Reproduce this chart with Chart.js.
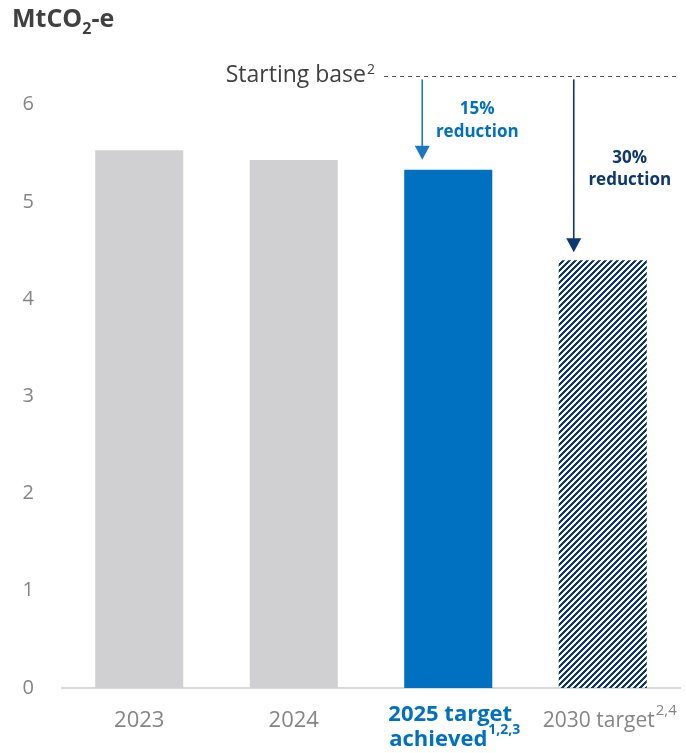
<!DOCTYPE html>
<html>
<head>
<meta charset="utf-8">
<script src="https://cdn.jsdelivr.net/npm/chart.js@4"></script>
<style>
  html, body { margin: 0; padding: 0; background: #fff; }
  #wrap { width: 686px; height: 753px; }
</style>
</head>
<body>
<div id="wrap"><canvas id="emissions" width="686" height="753"></canvas></div>
<script>
// ===== DATA =====
const categories = ['2023', '2024', '2025 target achieved', '2030 target'];
const emissions = [5.53, 5.43, 5.33, 4.40];   // MtCO2-e
const startingBase = 6.29;
const yTicks = [0, 1, 2, 3, 4, 5, 6];
const reductions = ['15%', '30%'];

const FONT = '"Open Sans", "Noto Sans", sans-serif';
const GREY_BAR = '#d0d0d2';
const BLUE = '#0070c0';
const NAVY = '#0c3770';
const LABEL_GREY = '#858585';

// crisp pixel hatch ("/" stripes) for the 2030 target bar
function hatchPattern(color) {
  const size = 6;
  const c = document.createElement('canvas');
  c.width = size; c.height = size;
  const g = c.getContext('2d');
  g.fillStyle = color;
  for (let r = 0; r < size; r++) {
    for (let k = 0; k < 3; k++) {
      g.fillRect((size - r + k) % size, r, 1, 1);
    }
  }
  return g.createPattern(c, 'repeat');
}

// text with a raised, smaller suffix; x is the centre of the main text
function supText(ctx, main, sup, x, y, font, supFont, color) {
  ctx.fillStyle = color;
  ctx.textBaseline = 'middle';
  ctx.font = font;
  const w = ctx.measureText(main).width;
  ctx.textAlign = 'left';
  ctx.fillText(main, x - w / 2, y);
  ctx.font = supFont;
  ctx.fillText(sup, x + w / 2 + 1, y - 10);
}

function arrow(ctx, x, y0, y1, color) {
  ctx.strokeStyle = color;
  ctx.fillStyle = color;
  ctx.lineWidth = 1.6;
  ctx.beginPath();
  ctx.moveTo(x, y0);
  ctx.lineTo(x, y1 - 13);
  ctx.stroke();
  ctx.beginPath();
  ctx.moveTo(x - 7.5, y1 - 14);
  ctx.lineTo(x + 7.5, y1 - 14);
  ctx.lineTo(x, y1);
  ctx.closePath();
  ctx.fill();
}

const annotations = {
  id: 'annotations',
  afterDraw(chart) {
    const { ctx, scales: { x, y } } = chart;
    ctx.save();

    // unit title
    ctx.fillStyle = '#404040';
    ctx.textBaseline = 'alphabetic';
    ctx.textAlign = 'left';
    ctx.font = `bold 25px ${FONT}`;
    ctx.fillText('MtCO', 12, 27);
    let tx = 12 + ctx.measureText('MtCO').width;
    ctx.font = `bold 16px ${FONT}`;
    ctx.fillText('2', tx, 34);
    tx += ctx.measureText('2').width;
    ctx.font = `bold 25px ${FONT}`;
    ctx.fillText('-e', tx, 27);

    // starting base
    const yb = y.getPixelForValue(startingBase);
    ctx.font = `23px ${FONT}`;
    ctx.fillStyle = '#404040';
    ctx.textBaseline = 'middle';
    ctx.textAlign = 'right';
    ctx.fillText('Starting base', 366, yb - 1);
    ctx.textAlign = 'left';
    ctx.font = `14px ${FONT}`;
    ctx.fillText('2', 367, yb - 6);
    ctx.strokeStyle = '#555';
    ctx.lineWidth = 1;
    ctx.setLineDash([4, 4]);
    ctx.beginPath();
    ctx.moveTo(384, Math.round(yb) + 0.5);
    ctx.lineTo(chart.chartArea.right, Math.round(yb) + 0.5);
    ctx.stroke();
    ctx.setLineDash([]);

    // reduction arrows
    const c25 = x.getPixelForValue(2), c30 = x.getPixelForValue(3);
    arrow(ctx, c25 - 26, yb + 3, y.getPixelForValue(emissions[2]) - 10, '#1a78c2');
    arrow(ctx, c30 - 29, yb + 3, y.getPixelForValue(emissions[3]) - 8, NAVY);

    ctx.font = `bold 17px ${FONT}`;
    ctx.textAlign = 'center';
    ctx.fillStyle = BLUE;
    ctx.fillText(reductions[0], c25 + 29, 109);
    ctx.fillText('reduction', c25 + 29, 132);
    ctx.fillStyle = NAVY;
    ctx.fillText(reductions[1], c30 + 27, 158);
    ctx.fillText('reduction', c30 + 27, 180);

    // category labels
    ctx.font = `22px ${FONT}`;
    ctx.fillStyle = LABEL_GREY;
    ctx.textAlign = 'center';
    ctx.fillText(categories[0], x.getPixelForValue(0), 721);
    ctx.fillText(categories[1], x.getPixelForValue(1), 721);
    ctx.font = `bold 22px ${FONT}`;
    ctx.fillStyle = BLUE;
    ctx.fillText('2025 target', c25 + 2, 715);
    supText(ctx, 'achieved', '1,2,3', c25 - 10, 740,
      `bold 22px ${FONT}`, `bold 14px ${FONT}`, BLUE);
    supText(ctx, '2030 target', '2,4', c30 - 4, 721,
      `21px ${FONT}`, `15px ${FONT}`, LABEL_GREY);

    ctx.restore();
  }
};

new Chart(document.getElementById('emissions'), {
  type: 'bar',
  data: {
    labels: categories,
    datasets: [{
      data: emissions,
      backgroundColor: [GREY_BAR, GREY_BAR, BLUE, hatchPattern(NAVY)],
      borderWidth: 0,
      barPercentage: 0.57,
      categoryPercentage: 1
    }]
  },
  options: {
    responsive: false,
    animation: false,
    layout: { padding: { top: 56, right: 6, left: 0, bottom: 0 } },
    plugins: { legend: { display: false }, tooltip: { enabled: false } },
    scales: {
      x: {
        grid: { display: false },
        border: { display: true, color: '#d9d9d9', width: 2 },
        ticks: { display: false },
        afterFit(scale) { scale.height = 65; }
      },
      y: {
        min: 0,
        max: 6.5,
        grid: { display: false, drawTicks: false },
        border: { display: false },
        afterBuildTicks(scale) { scale.ticks = yTicks.map(v => ({ value: v })); },
        afterFit(scale) { scale.width = 62; },
        ticks: {
          padding: 28,
          color: LABEL_GREY,
          font: { family: FONT, size: 20 }
        }
      }
    }
  },
  plugins: [annotations]
});
</script>
</body>
</html>
